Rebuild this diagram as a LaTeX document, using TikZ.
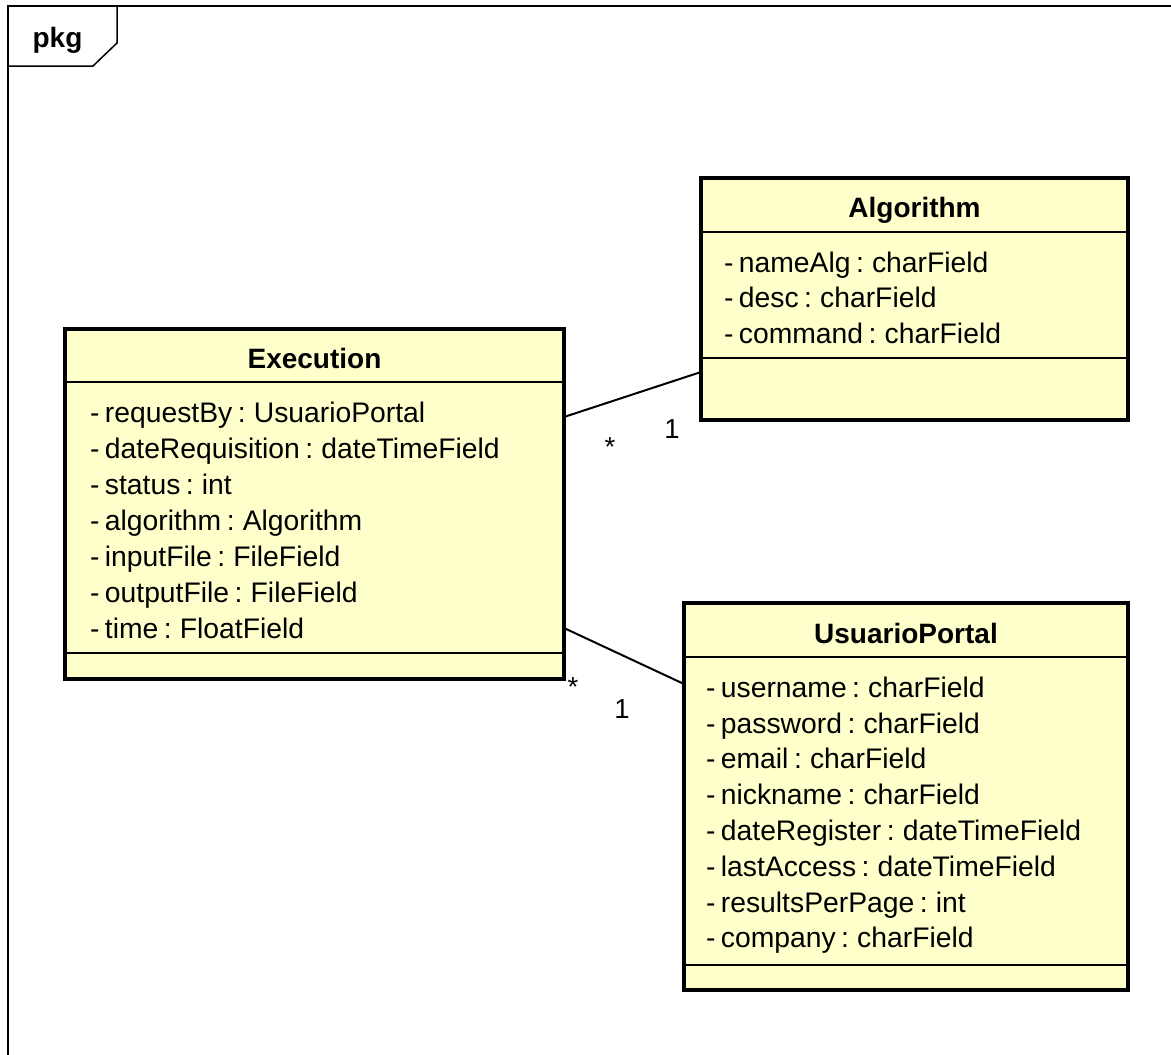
\documentclass[tikz,border=0pt]{standalone}
\usepackage{fontspec}
\setmainfont{Liberation Sans}[WordSpace=0.7]
\definecolor{classfill}{RGB}{255,255,204}

\begin{document}
\begin{tikzpicture}[x=1pt,y=-1pt]
      \tikzstyle{every node}+=[inner sep=0pt, outer sep=0pt]
      \tikzstyle{classbox}=[draw=black, fill=classfill, line width=4pt, rectangle]
      \tikzstyle{classname}=[font=\fontsize{28}{34}\selectfont\bfseries, anchor=base]
      \tikzstyle{attr}=[font=\fontsize{28.3}{34}\selectfont, anchor=base west]
      \tikzstyle{mult}=[font=\fontsize{27.5}{34}\selectfont, anchor=base]
      \tikzstyle{sep}=[line width=1.5pt]
      \tikzstyle{assoc}=[line width=2pt]
      \useasboundingbox (0,0) rectangle (1171,1055);
      % package frame
      \draw [line width=1.5pt] (1171,6) -- (8,6) -- (8,1055);
      \draw [line width=1.5pt] (8,66) -- (93,66) -- (117,43) -- (117,6);
      \node [classname] (pkg) at (57.5,47) {pkg};
      % classes
      \node [classbox, minimum width=499pt, minimum height=350pt] (exec) at (314.5,504) {};
      \node [classbox, minimum width=427pt, minimum height=242pt] (alg) at (914.5,299) {};
      \node [classbox, minimum width=444pt, minimum height=387pt] (user) at (906,796.5) {};
      % associations
      \draw [assoc] (exec.east |- 0,417) -- (alg.west |- 0,372);
      \node [mult] (execalgmany) at (610,456) {*};
      \node [mult] (execalgone) at (672,438) {1};
      \draw [assoc] (exec.east |- 0,628) -- (user.west |- 0,684);
      \node [mult] (execusermany) at (573,696) {*};
      \node [mult] (execuserone) at (622,718) {1};
      % Execution
      \draw [sep] (exec.west |- 0,382) -- (exec.east |- 0,382);
      \draw [sep] (exec.west |- 0,653) -- (exec.east |- 0,653);
      \node [classname] (execname) at (exec.north |- 0,368) {Execution};
      \node [attr] (exec1) at (90,422) {- requestBy : UsuarioPortal};
      \node [attr] (exec2) at (90,458) {- dateRequisition : dateTimeField};
      \node [attr] (exec3) at (90,494) {- status : int};
      \node [attr] (exec4) at (90,530) {- algorithm : Algorithm};
      \node [attr] (exec5) at (90,566) {- inputFile : FileField};
      \node [attr] (exec6) at (90,602) {- outputFile : FileField};
      \node [attr] (exec7) at (90,638) {- time : FloatField};
      % Algorithm
      \draw [sep] (alg.west |- 0,232) -- (alg.east |- 0,232);
      \draw [sep] (alg.west |- 0,358) -- (alg.east |- 0,358);
      \node [classname] (algname) at (alg.north |- 0,217) {Algorithm};
      \node [attr] (alg1) at (724,272) {- nameAlg : charField};
      \node [attr] (alg2) at (724,307.5) {- desc : charField};
      \node [attr] (alg3) at (724,343) {- command : charField};
      % UsuarioPortal
      \draw [sep] (user.west |- 0,657) -- (user.east |- 0,657);
      \draw [sep] (user.west |- 0,965) -- (user.east |- 0,965);
      \node [classname] (username) at (user.north |- 0,643) {UsuarioPortal};
      \node [attr] (user1) at (706,697) {- username : charField};
      \node [attr] (user2) at (706,733) {- password : charField};
      \node [attr] (user3) at (706,768) {- email : charField};
      \node [attr] (user4) at (706,804) {- nickname : charField};
      \node [attr] (user5) at (706,840) {- dateRegister : dateTimeField};
      \node [attr] (user6) at (706,876) {- lastAccess : dateTimeField};
      \node [attr] (user7) at (706,912) {- resultsPerPage : int};
      \node [attr] (user8) at (706,947) {- company : charField};
\end{tikzpicture}
\end{document}
